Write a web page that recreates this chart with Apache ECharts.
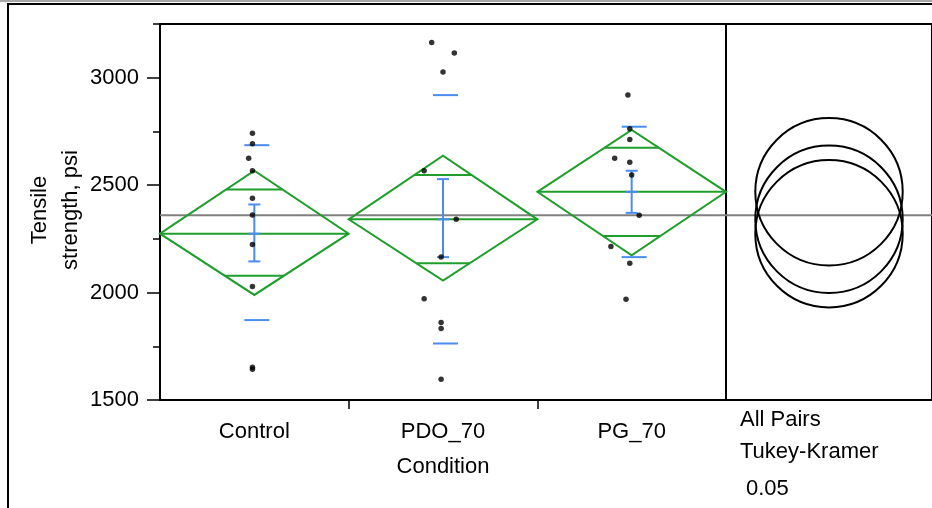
<!DOCTYPE html>
<html>
<head>
<meta charset="utf-8">
<script src="https://cdn.jsdelivr.net/npm/echarts@6/dist/echarts.min.js"></script>
<style>
  html, body { margin: 0; padding: 0; background: #fff; }
  #chart { width: 932px; height: 508px; }
</style>
</head>
<body>
<div id="chart"></div>
<script>
// groups
const categories = ['Control', 'PDO_70', 'PG_70'];

// raw observations, psi
const controlValues = [2742, 2693, 2625, 2567, 2439, 2361, 2224, 2028, 1652, 1643];
const pdoValues = [3164, 3115, 3027, 2567, 2341, 2165, 1971, 1861, 1833, 1597];
const pgValues = [2919, 2762, 2712, 2625, 2606, 2547, 2360, 2215, 2137, 1969];
// small horizontal jitter of the points, in category widths
const controlJitter = [-0.01, -0.01, -0.03, -0.01, -0.01, -0.01, -0.01, -0.01, -0.01, -0.01];
const pdoJitter = [-0.06, 0.06, 0.0, -0.1, 0.07, -0.01, -0.1, -0.01, -0.01, -0.01];
const pgJitter = [-0.02, -0.01, -0.01, -0.09, -0.01, 0.0, 0.04, -0.11, -0.01, -0.03];

// means diamonds
const means = [2274, 2341, 2469];
const ciLow = [1989, 2056, 2173];
const ciHigh = [2567, 2637, 2757];
const overlapLow = [2078, 2137, 2263];
const overlapHigh = [2480, 2547, 2674];

// std dev lines and std error bars
const sdLow = [1872, 1763, 2165];
const sdHigh = [2686, 2919, 2772];
const seLow = [2145, 2165, 2371];
const seHigh = [2410, 2528, 2567];

const grandMean = 2360;
const circleRadius = 343;

const yMajorTicks = [1500, 2000, 2500, 3000];
const yMinorTicks = [1750, 2250, 2750, 3250];

const FONT = '"Liberation Sans", Arial, sans-serif';
const GREEN = '#1f9e2c';
const BLUE = '#4a8cf0';

var chartDom = document.getElementById('chart');
var myChart = echarts.init(chartDom);

var pointData = [];
[controlValues, pdoValues, pgValues].forEach(function (vals, i) {
  var jit = [controlJitter, pdoJitter, pgJitter][i];
  vals.forEach(function (v, k) {
    pointData.push([i + 0.5 + jit[k], v]);
  });
});

var diamondData = categories.map(function (c, i) {
  return [i, means[i], ciLow[i], ciHigh[i], overlapLow[i], overlapHigh[i]];
});
var blueData = categories.map(function (c, i) {
  return [i, means[i], sdLow[i], sdHigh[i], seLow[i], seHigh[i]];
});
var circleData = means.map(function (m) { return [0.5, m]; });

function renderDiamond(params, api) {
  var i = api.value(0), m = api.value(1);
  var lo = api.value(2), hi = api.value(3);
  var oLo = api.value(4), oHi = api.value(5);
  var left = api.coord([i, m]);
  var right = api.coord([i + 1, m]);
  var top = api.coord([i + 0.5, hi]);
  var bot = api.coord([i + 0.5, lo]);
  var half = (right[0] - left[0]) / 2;
  var cx = (right[0] + left[0]) / 2;
  var style = { stroke: GREEN, lineWidth: 2, fill: null };
  function mark(v, span) {
    var p = api.coord([i + 0.5, v]);
    var w = half * (1 - Math.abs(v - m) / span);
    return { type: 'line', shape: { x1: cx - w, y1: p[1], x2: cx + w, y2: p[1] }, style: style };
  }
  return {
    type: 'group',
    children: [
      { type: 'polygon', shape: { points: [left, top, right, bot] }, style: style },
      { type: 'line', shape: { x1: left[0], y1: left[1], x2: right[0], y2: right[1] }, style: style },
      mark(oHi, hi - m),
      mark(oLo, m - lo)
    ]
  };
}

function renderBlue(params, api) {
  var i = api.value(0);
  var c = api.coord([i + 0.5, api.value(1)]);
  var sdL = api.coord([i + 0.5, api.value(2)]);
  var sdH = api.coord([i + 0.5, api.value(3)]);
  var seL = api.coord([i + 0.5, api.value(4)]);
  var seH = api.coord([i + 0.5, api.value(5)]);
  var style = { stroke: BLUE, lineWidth: 2 };
  var x = c[0];
  function hline(y, a, b) {
    return { type: 'line', shape: { x1: x + a, y1: y, x2: x + b, y2: y }, style: style };
  }
  return {
    type: 'group',
    children: [
      hline(sdL[1], -10, 15),
      hline(sdH[1], -10, 15),
      { type: 'line', shape: { x1: x, y1: seL[1], x2: x, y2: seH[1] }, style: style },
      hline(seL[1], -6, 6),
      hline(seH[1], -6, 6),
      hline(c[1], -6, 6)
    ]
  };
}

function renderCircle(params, api) {
  var c = api.coord([api.value(0), api.value(1)]);
  var r = api.size([0, circleRadius])[1];
  return {
    type: 'circle',
    shape: { cx: c[0], cy: c[1], r: r },
    style: { stroke: '#000', lineWidth: 2, fill: null }
  };
}

var option = {
  backgroundColor: '#fff',
  animation: false,
  textStyle: { fontFamily: FONT },
  grid: [
    { left: 160, top: 24, width: 566, height: 376, show: true, borderColor: '#000', borderWidth: 2 },
    { left: 726, top: 24, right: -2, height: 376, show: true, borderColor: '#000', borderWidth: 2 }
  ],
  xAxis: [
    {
      gridIndex: 0, type: 'value', min: 0, max: 3,
      splitLine: { show: false },
      axisLine: { show: true, lineStyle: { color: '#000', width: 2 } },
      axisTick: { show: true, customValues: [1, 2], length: 9, lineStyle: { color: '#000', width: 1.5 } },
      axisLabel: {
        customValues: [0.5, 1.5, 2.5], margin: 21, color: '#000', fontSize: 22, fontFamily: FONT,
        formatter: function (v) { return categories[Math.round(v - 0.5)]; }
      },
      name: 'Condition', nameLocation: 'middle', nameGap: 56,
      nameTextStyle: { color: '#000', fontSize: 22, fontFamily: FONT }
    },
    {
      gridIndex: 1, type: 'value', min: 0, max: 1, show: false
    }
  ],
  yAxis: [
    {
      gridIndex: 0, type: 'value', min: 1500, max: 3250,
      splitLine: { show: false },
      axisLine: { show: true, lineStyle: { color: '#000', width: 2 } },
      axisTick: { show: true, customValues: yMajorTicks, length: 13, lineStyle: { color: '#000', width: 1.5 } },
      axisLabel: {
        customValues: yMajorTicks, margin: 21, color: '#000', fontSize: 22, fontFamily: FONT,
        formatter: function (v) { return String(v); }
      }
    },
    {
      gridIndex: 0, type: 'value', min: 1500, max: 3250, position: 'left',
      splitLine: { show: false },
      axisLine: { show: false },
      axisTick: { show: true, customValues: yMinorTicks, length: 7, lineStyle: { color: '#000', width: 1.5 } },
      axisLabel: { show: false }
    },
    {
      gridIndex: 1, type: 'value', min: 1500, max: 3250, show: false
    }
  ],
  series: [
    {
      type: 'line', xAxisIndex: 0, yAxisIndex: 0, z: 1,
      data: [[0, grandMean], [3, grandMean]],
      symbol: 'none', silent: true,
      lineStyle: { color: '#808080', width: 2 }
    },
    {
      type: 'line', xAxisIndex: 1, yAxisIndex: 2, z: 1,
      data: [[0, grandMean], [1, grandMean]],
      symbol: 'none', silent: true,
      lineStyle: { color: '#808080', width: 2 }
    },
    {
      type: 'custom', xAxisIndex: 0, yAxisIndex: 0, z: 2,
      data: diamondData, renderItem: renderDiamond
    },
    {
      type: 'custom', xAxisIndex: 0, yAxisIndex: 0, z: 3,
      data: blueData, renderItem: renderBlue
    },
    {
      type: 'scatter', xAxisIndex: 0, yAxisIndex: 0, z: 4,
      data: pointData, symbol: 'circle', symbolSize: 5.5,
      itemStyle: { color: '#000' }
    },
    {
      type: 'custom', xAxisIndex: 1, yAxisIndex: 2, z: 3,
      data: circleData, renderItem: renderCircle
    }
  ],
  graphic: [
    { type: 'line', shape: { x1: 0, y1: 1, x2: 932, y2: 1 }, style: { stroke: '#a8a8a8', lineWidth: 2 } },
    { type: 'rect', shape: { x: 8, y: 4, width: 1000, height: 600 }, style: { stroke: '#000', lineWidth: 2, fill: null } },
    // y axis title, two lines, rotated
    {
      type: 'text', x: 55, y: 210, rotation: Math.PI / 2,
      style: {
        text: 'Tensile\nstrength, psi', font: '22px ' + FONT, fill: '#000',
        align: 'center', verticalAlign: 'middle', lineHeight: 31
      }
    },
    { type: 'text', left: 740, top: 409, style: { text: 'All Pairs', font: '22px ' + FONT, fill: '#000' } },
    { type: 'text', left: 740, top: 441, style: { text: 'Tukey-Kramer', font: '22px ' + FONT, fill: '#000' } },
    { type: 'text', left: 746, top: 478, style: { text: '0.05', font: '22px ' + FONT, fill: '#000' } }
  ]
};

option && myChart.setOption(option);
</script>
</body>
</html>
